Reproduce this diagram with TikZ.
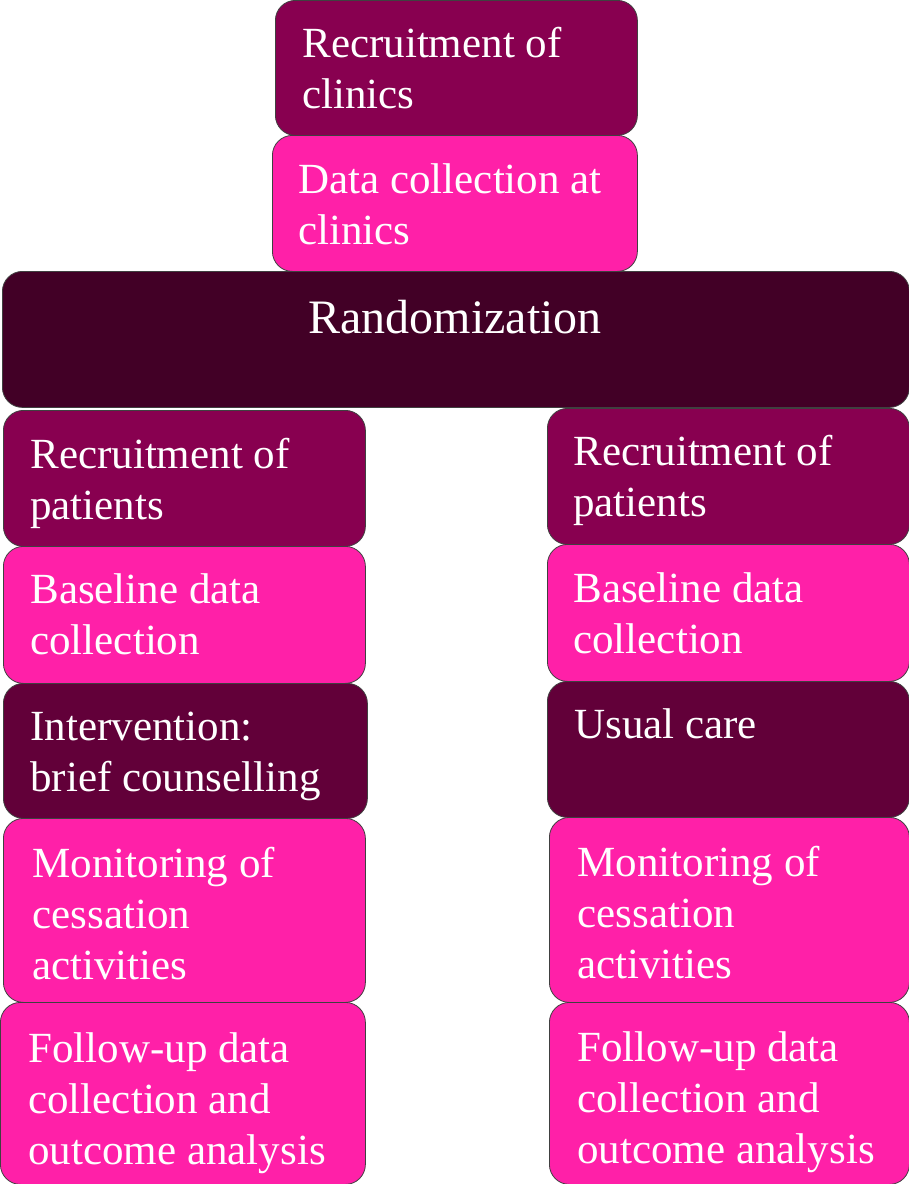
\documentclass[tikz,border=0pt]{standalone}
\usepackage{fontspec}
\setmainfont{Liberation Serif}
\definecolor{plum}{HTML}{880050}
\definecolor{hotpink}{HTML}{FF20A8}
\definecolor{deepwine}{HTML}{420026}
\definecolor{wine}{HTML}{620039}
\tikzset{
  stage/.style={draw=black!75, line width=0.4pt, rounded corners=10pt,
    anchor=north west, inner sep=0pt},
  stagetext/.style={anchor=base west, inner sep=0pt, text=white,
    font=\fontsize{21.5}{25.5}\selectfont},
}
\begin{document}
\begin{tikzpicture}[x=0.5pt,y=-0.5pt]
  \useasboundingbox (0,0) rectangle (909,1184);
  % boxes: name/left/top/width/height/colour (in px)
  \foreach \name/\x/\y/\w/\h/\col in {
      rc/275/0/362/135/plum, dc/272/135/365/136/hotpink,
      rand/2/271/907/136/deepwine,
      lrp/3/410/362/136/plum, lbd/3/546/362/137/hotpink,
      liv/3/683/364/135/wine, lmon/3/818/362/184/hotpink,
      lfu/0/1002/365/182/hotpink,
      rrp/547/408/362/136/plum, rbd/547/544/362/137/hotpink,
      ruc/547/681/362/136/wine, rmon/549/817/360/185/hotpink,
      rfu/549/1002/360/182/hotpink}
    \node[stage, fill=\col, minimum width=\w*0.5pt, minimum height=\h*0.5pt]
      (\name) at (\x,\y) {};
  % labels, first baseline measured from the top left corner
  \foreach \name/\dx/\dy/\txt in {
      rc/27/57/{Recruitment of\\clinics},
      dc/26/58/{Data collection at\\clinics},
      lrp/27/58/{Recruitment of\\patients},
      lbd/27/57/{Baseline data\\collection},
      liv/27/57/{Intervention:\\brief counselling},
      lmon/29/59/{Monitoring of\\cessation\\activities},
      lfu/28/60/{Follow-up data\\collection and\\outcome analysis},
      rrp/26/57/{Recruitment of\\patients},
      rbd/26/58/{Baseline data\\collection},
      ruc/27/57/{Usual care},
      rmon/28/59/{Monitoring of\\cessation\\activities},
      rfu/28/59/{Follow-up data\\collection and\\outcome analysis}}
    \node[stagetext] (t-\name) at ([shift={(\dx,\dy)}]\name.north west)
      {\parbox[t]{170pt}{\txt}};
  % centred title of the randomization bar
  \node[stagetext, anchor=base, font=\fontsize{24}{28}\selectfont] (t-rand)
    at ([shift={(453,62)}]rand.north west) {Randomization};
\end{tikzpicture}
\end{document}
